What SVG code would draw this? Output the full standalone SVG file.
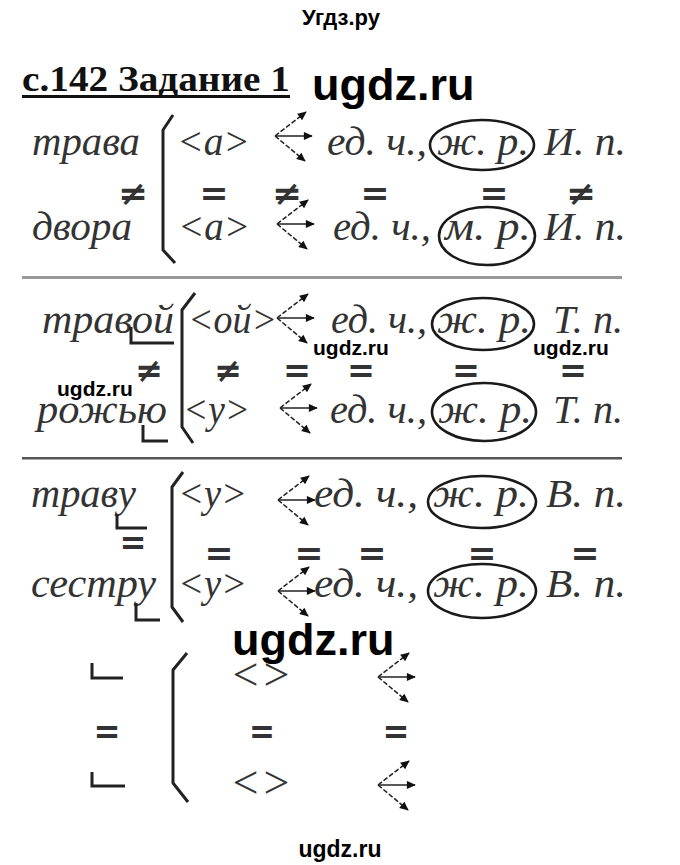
<svg xmlns="http://www.w3.org/2000/svg" width="680" height="865" viewBox="0 0 680 865">
<style>
.it{font-family:"Liberation Serif",serif;font-style:italic;font-size:40px;fill:#333}
.sym{font-family:"DejaVu Sans",sans-serif;font-weight:bold;font-size:34px;fill:#333;text-anchor:middle}
.ang{font-family:"Liberation Serif",serif;font-size:46px;fill:#333;text-anchor:middle}
.wm{font-family:"Liberation Sans",Arial,sans-serif;font-weight:bold;fill:#000}
.br{fill:none;stroke:#222;stroke-width:3;stroke-linejoin:round}
.end{fill:none;stroke:#222;stroke-width:3}
.ell{fill:none;stroke:#1a1a1a;stroke-width:2.6}
.ar{stroke:#222;stroke-width:1.6;marker-end:url(#ah)}
.ad{stroke:#222;stroke-width:1.5;stroke-dasharray:5 2;marker-end:url(#ah)}
</style>
<defs>
<marker id="ah" viewBox="0 0 10 10" refX="9" refY="5" markerWidth="12" markerHeight="9" markerUnits="userSpaceOnUse" orient="auto"><path d="M0,0.5 L10,5 L0,9.5 z" fill="#111"/></marker>
<g id="arr"><line class="ad" x1="0" y1="0" x2="31" y2="-24"/><line class="ar" x1="0" y1="0" x2="37" y2="0"/><line class="ad" x1="0" y1="0" x2="30" y2="25"/></g>
</defs>
<rect width="680" height="865" fill="#fff"/>

<g id="header">
<text class="wm" x="341" y="25" font-size="22" text-anchor="middle">Угдз.ру</text>
<text x="22" y="91" font-family="Liberation Serif,serif" font-weight="bold" font-size="36" textLength="268" lengthAdjust="spacingAndGlyphs" fill="#111">с.142 Задание 1</text>
<rect x="22" y="95" width="268" height="3" fill="#111"/>
<text class="wm" x="312" y="100" font-size="45">ugdz.ru</text>
</g>

<g id="block1">
<text class="it" x="32" y="155" textLength="108" lengthAdjust="spacingAndGlyphs">трава</text>
<text class="it" x="177" y="155" textLength="73" lengthAdjust="spacingAndGlyphs">&lt;а&gt;</text>
<text class="it" x="327" y="155" textLength="100" lengthAdjust="spacingAndGlyphs">ед. ч.,</text>
<text class="it" x="437" y="155" textLength="92" lengthAdjust="spacingAndGlyphs">ж. р.</text>
<text class="it" x="544" y="155" textLength="82" lengthAdjust="spacingAndGlyphs">И. п.</text>
<ellipse class="ell" cx="482" cy="145" rx="52" ry="25"/>
<text class="sym" x="133" y="205" textLength="30" lengthAdjust="spacingAndGlyphs">≠</text>
<text class="sym" x="214" y="205" textLength="29" lengthAdjust="spacingAndGlyphs">=</text>
<text class="sym" x="287" y="205" textLength="30" lengthAdjust="spacingAndGlyphs">≠</text>
<text class="sym" x="375" y="205" textLength="29" lengthAdjust="spacingAndGlyphs">=</text>
<text class="sym" x="494" y="205" textLength="29" lengthAdjust="spacingAndGlyphs">=</text>
<text class="sym" x="581" y="205" textLength="30" lengthAdjust="spacingAndGlyphs">≠</text>
<text class="it" x="32" y="240" textLength="100" lengthAdjust="spacingAndGlyphs">двора</text>
<text class="it" x="178" y="240" textLength="72" lengthAdjust="spacingAndGlyphs">&lt;а&gt;</text>
<text class="it" x="333" y="240" textLength="98" lengthAdjust="spacingAndGlyphs">ед. ч.,</text>
<text class="it" x="445" y="240" textLength="86" lengthAdjust="spacingAndGlyphs">м. р.</text>
<text class="it" x="544" y="240" textLength="82" lengthAdjust="spacingAndGlyphs">И. п.</text>
<ellipse class="ell" cx="487" cy="236" rx="48" ry="29"/>
<polyline class="br" points="173,115 163,130 163,250 175,263"/>
<use href="#arr" x="275" y="136"/>
<use href="#arr" x="277" y="224"/>
</g>

<rect x="22" y="276" width="600" height="3" fill="#999"/>

<g id="block2">
<text class="it" x="42" y="333" textLength="132" lengthAdjust="spacingAndGlyphs">травой</text>
<path class="end" d="M131,327 V343 H174"/>
<text class="it" x="188" y="333" textLength="89" lengthAdjust="spacingAndGlyphs">&lt;ой&gt;</text>
<text class="it" x="331" y="333" textLength="96" lengthAdjust="spacingAndGlyphs">ед. ч.,</text>
<text class="it" x="437" y="333" textLength="94" lengthAdjust="spacingAndGlyphs">ж. р.</text>
<text class="it" x="553" y="333" textLength="70" lengthAdjust="spacingAndGlyphs">Т. п.</text>
<ellipse class="ell" cx="483" cy="324" rx="51" ry="26"/>
<text class="sym" x="149" y="382" textLength="28" lengthAdjust="spacingAndGlyphs">≠</text>
<text class="sym" x="228" y="382" textLength="28" lengthAdjust="spacingAndGlyphs">≠</text>
<text class="sym" x="297" y="382" textLength="28" lengthAdjust="spacingAndGlyphs">=</text>
<text class="sym" x="361" y="382" textLength="28" lengthAdjust="spacingAndGlyphs">=</text>
<text class="sym" x="466" y="382" textLength="28" lengthAdjust="spacingAndGlyphs">=</text>
<text class="sym" x="573" y="382" textLength="28" lengthAdjust="spacingAndGlyphs">=</text>
<text class="it" x="37" y="423" textLength="130" lengthAdjust="spacingAndGlyphs">рожью</text>
<path class="end" d="M143,425 V441 H168"/>
<text class="it" x="183" y="423" textLength="67" lengthAdjust="spacingAndGlyphs">&lt;у&gt;</text>
<text class="it" x="330" y="423" textLength="97" lengthAdjust="spacingAndGlyphs">ед. ч.,</text>
<text class="it" x="438" y="423" textLength="94" lengthAdjust="spacingAndGlyphs">ж. р.</text>
<text class="it" x="553" y="423" textLength="70" lengthAdjust="spacingAndGlyphs">Т. п.</text>
<ellipse class="ell" cx="484" cy="412" rx="52" ry="29"/>
<polyline class="br" points="195,293 182,310 182,427 193,443"/>
<use href="#arr" x="277" y="318"/>
<use href="#arr" x="280" y="408"/>
<text class="wm" x="313" y="355" font-size="21">ugdz.ru</text>
<text class="wm" x="533" y="355" font-size="21">ugdz.ru</text>
<text class="wm" x="57" y="396" font-size="21">ugdz.ru</text>
</g>

<rect x="22" y="457" width="600" height="2.5" fill="#555"/>

<g id="block3">
<text class="it" x="31" y="507" textLength="105" lengthAdjust="spacingAndGlyphs">траву</text>
<path class="end" d="M117,514 V528 H147"/>
<text class="sym" x="133" y="554" textLength="27" lengthAdjust="spacingAndGlyphs">=</text>
<text class="it" x="178" y="507" textLength="69" lengthAdjust="spacingAndGlyphs">&lt;у&gt;</text>
<text class="it" x="314" y="507" textLength="104" lengthAdjust="spacingAndGlyphs">ед. ч.,</text>
<text class="it" x="433" y="507" textLength="96" lengthAdjust="spacingAndGlyphs">ж. р.</text>
<text class="it" x="546" y="507" textLength="80" lengthAdjust="spacingAndGlyphs">В. п.</text>
<ellipse class="ell" cx="482" cy="502" rx="54" ry="26"/>
<text class="sym" x="219" y="565" textLength="29" lengthAdjust="spacingAndGlyphs">=</text>
<text class="sym" x="309" y="565" textLength="29" lengthAdjust="spacingAndGlyphs">=</text>
<text class="sym" x="372" y="565" textLength="29" lengthAdjust="spacingAndGlyphs">=</text>
<text class="sym" x="482" y="565" textLength="29" lengthAdjust="spacingAndGlyphs">=</text>
<text class="sym" x="585" y="565" textLength="29" lengthAdjust="spacingAndGlyphs">=</text>
<text class="it" x="31" y="597" textLength="125" lengthAdjust="spacingAndGlyphs">сестру</text>
<path class="end" d="M136,603 V620 H160"/>
<text class="it" x="178" y="597" textLength="69" lengthAdjust="spacingAndGlyphs">&lt;у&gt;</text>
<text class="it" x="314" y="597" textLength="104" lengthAdjust="spacingAndGlyphs">ед. ч.,</text>
<text class="it" x="433" y="597" textLength="96" lengthAdjust="spacingAndGlyphs">ж. р.</text>
<text class="it" x="546" y="597" textLength="80" lengthAdjust="spacingAndGlyphs">В. п.</text>
<ellipse class="ell" cx="482" cy="591" rx="54" ry="27"/>
<polyline class="br" points="183,472 172,487 172,607 183,622"/>
<use href="#arr" x="278" y="500"/>
<use href="#arr" x="278" y="591"/>
<text class="wm" x="232" y="655" font-size="45">ugdz.ru</text>
</g>

<g id="block4">
<path class="end" d="M92,663 V678 H123"/>
<text class="sym" x="107" y="743" textLength="27" lengthAdjust="spacingAndGlyphs">=</text>
<path class="end" d="M92,772 V786 H125"/>
<polyline class="br" points="187,653 173,670 173,783 188,802"/>
<text class="ang" x="261" y="690" textLength="57" lengthAdjust="spacing">&lt; &gt;</text>
<text class="sym" x="262" y="743" textLength="26" lengthAdjust="spacingAndGlyphs">=</text>
<text class="ang" x="261" y="798" textLength="57" lengthAdjust="spacing">&lt; &gt;</text>
<use href="#arr" x="378" y="677"/>
<text class="sym" x="396" y="743" textLength="27" lengthAdjust="spacingAndGlyphs">=</text>
<use href="#arr" x="378" y="785"/>
</g>

<text class="wm" x="340" y="857" font-size="23" text-anchor="middle">ugdz.ru</text>
</svg>
